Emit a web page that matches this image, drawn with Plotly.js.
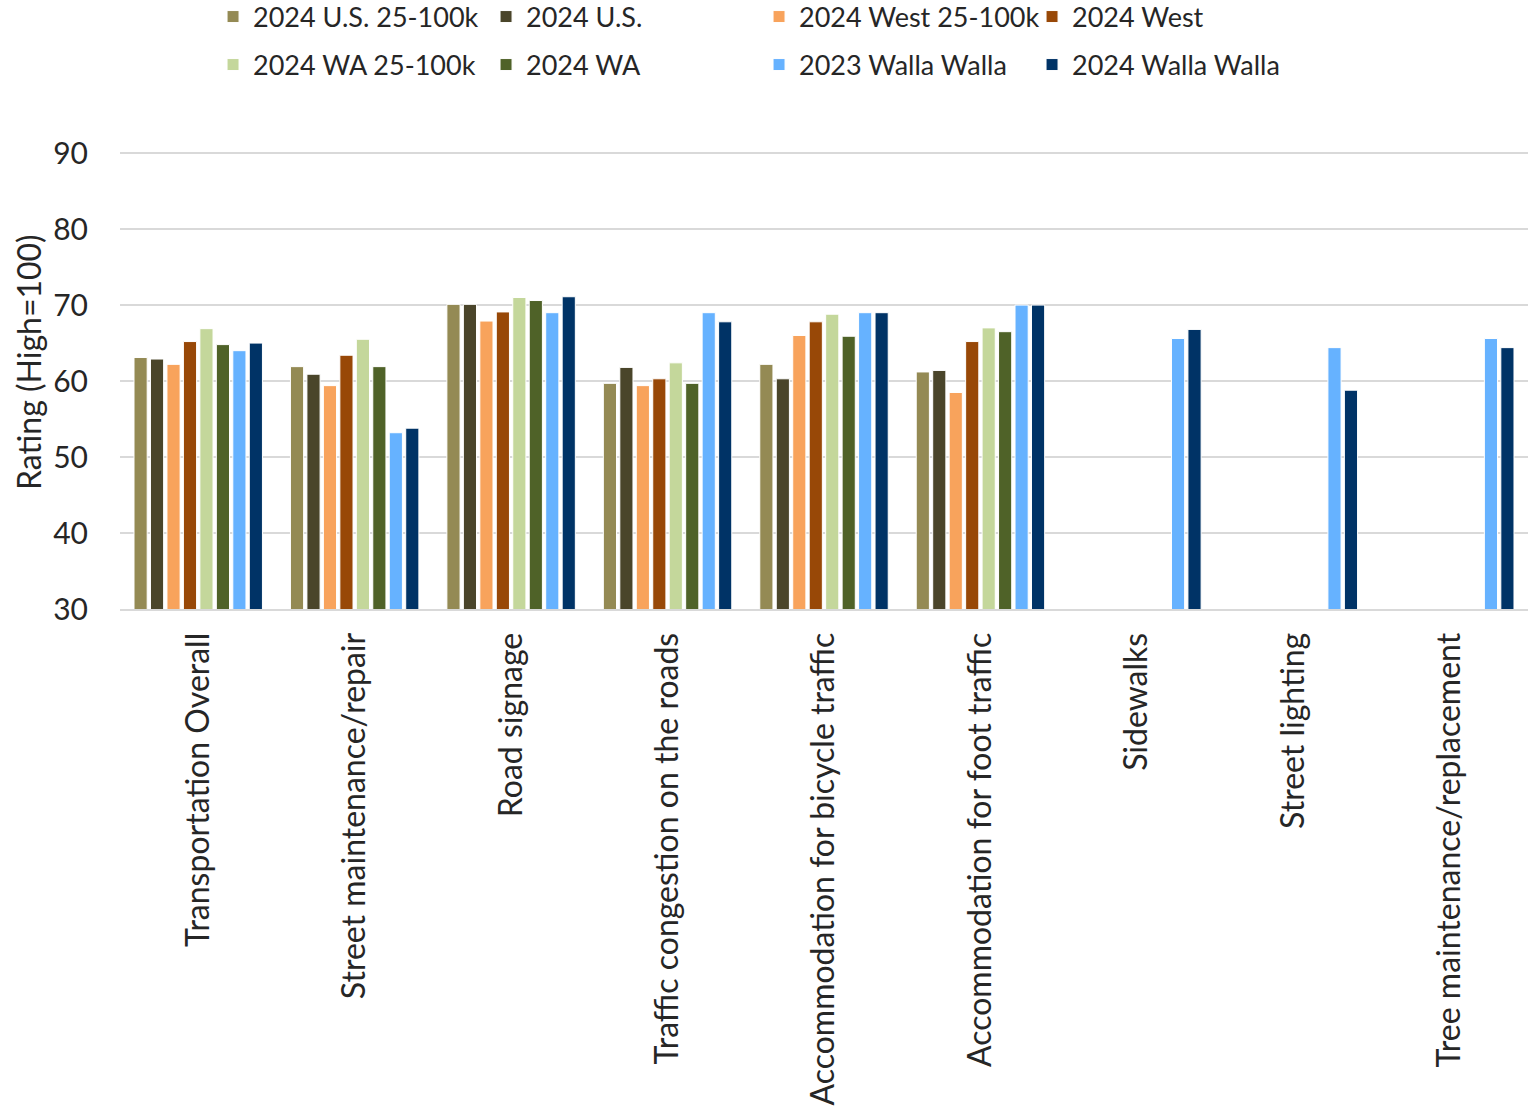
<!DOCTYPE html>
<html>
<head>
<meta charset="utf-8">
<script src="https://cdn.plot.ly/plotly-3.0.1.min.js"></script>
<style>html,body{margin:0;padding:0;background:#fff;}#chart{width:1536px;height:1109px;}</style>
</head>
<body>
<div id="chart"></div>
<script>
const categories = ["Transportation Overall","Street maintenance/repair","Road signage","Traffic congestion on the roads","Accommodation for bicycle traffic","Accommodation for foot traffic","Sidewalks","Street lighting","Tree maintenance/replacement"];
const seriesNames = ["2024 U.S. 25-100k","2024 U.S.","2024 West 25-100k","2024 West","2024 WA 25-100k","2024 WA","2023 Walla Walla","2024 Walla Walla"];
const us25 = [63.1, 61.9, 70.1, 59.7, 62.2, 61.2, null, null, null];
const us = [62.9, 60.9, 70.1, 61.8, 60.3, 61.4, null, null, null];
const west25 = [62.2, 59.4, 67.9, 59.4, 66.0, 58.5, null, null, null];
const west = [65.2, 63.4, 69.1, 60.3, 67.8, 65.2, null, null, null];
const wa25 = [66.9, 65.5, 71.0, 62.4, 68.8, 67.0, null, null, null];
const wa = [64.8, 61.9, 70.6, 59.7, 65.9, 66.5, null, null, null];
const ww2023 = [64.0, 53.2, 69.0, 69.0, 69.0, 70.0, 65.6, 64.4, 65.6];
const ww2024 = [65.0, 53.8, 71.1, 67.8, 69.0, 70.0, 66.8, 58.8, 64.4];
const yTitle = "Rating (High=100)";
const colors = ["#948A54","#4A452A","#F8A35C","#984807","#C4D79B","#4F6228","#66B2FF","#003366"];
const allSeries = [us25, us, west25, west, wa25, wa, ww2023, ww2024];

const traces = allSeries.map((vals, i) => ({
  type: 'bar',
  name: seriesNames[i],
  x: categories,
  y: vals,
  marker: {color: colors[i], line: {color: '#ffffff', width: 1}},
  legend: i < 4 ? 'legend' : 'legend2',
  hoverinfo: 'x+y+name'
}));

const legendCommon = {
  orientation: 'h',
  xref: 'container', yref: 'container',
  x: 0.1387, xanchor: 'left',
  yanchor: 'middle',
  entrywidth: 228, entrywidthmode: 'pixels',
  font: {family: 'Lato, sans-serif', size: 27, color: '#262626'},
  bgcolor: 'rgba(0,0,0,0)',
  traceorder: 'normal'
};

const layout = {
  width: 1536, height: 1109,
  paper_bgcolor: '#ffffff', plot_bgcolor: '#ffffff',
  font: {family: 'Lato, sans-serif', color: '#262626'},
  margin: {l: 120, r: 8, t: 152, b: 500},
  barmode: 'group',
  bargap: 0.158,
  bargroupgap: 0.2,
  showlegend: true,
  legend: Object.assign({}, legendCommon, {y: 1 - 17/1109}),
  legend2: Object.assign({}, legendCommon, {y: 1 - 65/1109}),
  xaxis: {
    type: 'category',
    tickangle: -90,
    tickfont: {family: 'Lato, sans-serif', size: 32, color: '#262626'},
    showline: true, linecolor: '#d9d9d9', linewidth: 2,
    ticks: '', showgrid: false,
    ticklabelstandoff: 9,
    fixedrange: true
  },
  yaxis: {
    range: [30, 90.15],
    tickmode: 'array',
    tickvals: [30, 40, 50, 60, 70, 80, 90],
    tickfont: {family: 'Lato, sans-serif', size: 30, color: '#262626'},
    gridcolor: '#d9d9d9', gridwidth: 2,
    zeroline: false,
    ticks: '',
    ticklabelstandoff: 31,
    fixedrange: true
  },
  annotations: [{
    text: yTitle,
    xref: 'paper', yref: 'paper',
    x: -0.065, y: 0.5 + 19/456,
    xanchor: 'center', yanchor: 'middle',
    textangle: -90,
    showarrow: false,
    font: {family: 'Lato, sans-serif', size: 32, color: '#262626'}
  }]
};

Plotly.newPlot('chart', traces, layout, {displayModeBar: false, responsive: false});
</script>
</body>
</html>
